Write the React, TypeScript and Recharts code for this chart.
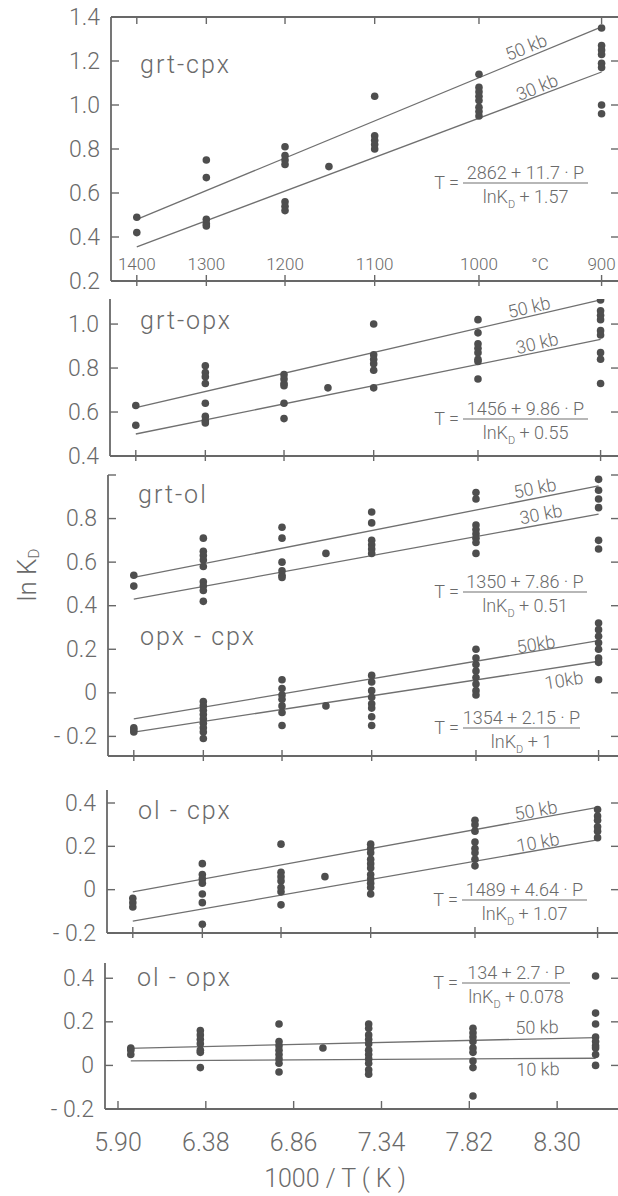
import React from 'react';
import { ComposedChart, Scatter, Line, XAxis, YAxis } from 'recharts';

// x positions (1000/T) of the run temperatures 1400,1300,1200,1150,1100,1000,900 °C
const RUN_X = [5.97, 6.35, 6.78, 7.02, 7.27, 7.84, 8.51];
const TEMP_TICK_X = [5.97, 6.35, 6.78, 7.27, 7.84, 8.51];
const TEMP_LABELS = ['1400', '1300', '1200', '1100', '1000', '900'];
const INV_T_TICKS = [5.9, 6.38, 6.86, 7.34, 7.82, 8.3];
const X_DOMAIN = [5.829, 8.638];
const LINE_X = [5.97, 8.51];
const LINE_X_OL_OPX_50 = [5.95, 8.51];

// ln KD values, one list per run temperature
const GRT_CPX = [
  [0.49, 0.42],
  [0.75, 0.67, 0.48, 0.46, 0.45],
  [0.81, 0.77, 0.75, 0.73, 0.56, 0.54, 0.52],
  [0.72],
  [1.04, 0.86, 0.84, 0.82, 0.8],
  [1.14, 1.08, 1.06, 1.04, 1.02, 0.99, 0.97, 0.95],
  [1.35, 1.27, 1.25, 1.23, 1.19, 1.17, 1.0, 0.96],
];
const GRT_CPX_50 = [0.48, 1.355];
const GRT_CPX_30 = [0.355, 1.15];

const GRT_OPX = [
  [0.63, 0.54],
  [0.81, 0.78, 0.76, 0.73, 0.64, 0.58, 0.56, 0.55],
  [0.77, 0.75, 0.73, 0.72, 0.64, 0.57],
  [0.71],
  [1.0, 0.86, 0.84, 0.82, 0.79, 0.71],
  [1.02, 0.96, 0.91, 0.89, 0.87, 0.84, 0.83, 0.75],
  [1.11, 1.06, 1.04, 1.02, 0.97, 0.95, 0.87, 0.84, 0.73],
];
const GRT_OPX_50 = [0.62, 1.11];
const GRT_OPX_30 = [0.5, 0.93];

const GRT_OL = [
  [0.54, 0.49],
  [0.71, 0.65, 0.63, 0.61, 0.58, 0.51, 0.49, 0.47, 0.42],
  [0.76, 0.71, 0.6, 0.56, 0.54, 0.53],
  [0.64],
  [0.83, 0.78, 0.7, 0.68, 0.66, 0.64],
  [0.92, 0.89, 0.77, 0.75, 0.73, 0.71, 0.69, 0.64],
  [0.98, 0.93, 0.89, 0.85, 0.7, 0.66],
];
const GRT_OL_50 = [0.53, 0.95];
const GRT_OL_30 = [0.43, 0.82];

const OPX_CPX = [
  [-0.16, -0.17, -0.18],
  [-0.04, -0.06, -0.08, -0.1, -0.12, -0.14, -0.16, -0.18, -0.21],
  [0.06, 0.02, -0.01, -0.03, -0.06, -0.09, -0.15],
  [-0.06],
  [0.08, 0.05, 0.01, -0.02, -0.05, -0.07, -0.11, -0.15],
  [0.2, 0.16, 0.13, 0.1, 0.07, 0.04, 0.01, -0.01],
  [0.32, 0.29, 0.26, 0.23, 0.2, 0.16, 0.14, 0.06],
];
const OPX_CPX_50 = [-0.12, 0.24];
const OPX_CPX_10 = [-0.18, 0.145];

const OL_CPX = [
  [-0.04, -0.06, -0.08],
  [0.12, 0.07, 0.05, 0.03, -0.02, -0.06, -0.16],
  [0.21, 0.08, 0.06, 0.04, 0.01, -0.01, -0.07],
  [0.06],
  [0.21, 0.19, 0.17, 0.14, 0.12, 0.1, 0.07, 0.05, 0.03, 0.01, -0.02],
  [0.32, 0.3, 0.27, 0.22, 0.19, 0.17, 0.14, 0.11],
  [0.52, 0.48, 0.37, 0.34, 0.32, 0.29, 0.27, 0.24],
];
const OL_CPX_50 = [-0.01, 0.38];
const OL_CPX_10 = [-0.145, 0.23];

const OL_OPX = [
  [0.08, 0.07, 0.05],
  [0.16, 0.14, 0.12, 0.1, 0.07, 0.06, -0.01],
  [0.19, 0.11, 0.09, 0.07, 0.05, 0.03, 0.01, -0.03],
  [0.08],
  [0.19, 0.17, 0.14, 0.12, 0.1, 0.07, 0.05, 0.03, 0.01, -0.02, -0.04],
  [0.17, 0.15, 0.13, 0.11, 0.08, 0.06, 0.02, -0.01, -0.14],
  [0.41, 0.24, 0.19, 0.13, 0.11, 0.09, 0.08, 0.05, 0.0],
];
const OL_OPX_50 = [0.078, 0.128];
const OL_OPX_10 = [0.021, 0.033];

const PANEL_NAMES = ['grt-cpx', 'grt-opx', 'grt-ol', 'opx - cpx', 'ol - cpx', 'ol - opx'];
const EQ_NUM = ['2862 + 11.7 · P', '1456 + 9.86 · P', '1350 + 7.86 · P', '1354 + 2.15 · P', '1489 + 4.64 · P', '134 + 2.7 · P'];
const EQ_DEN = ['1.57', '0.55', '0.51', '1', '1.07', '0.078'];
const KB_LABELS = [['50 kb', '30 kb'], ['50 kb', '30 kb'], ['50 kb', '30 kb'], ['50kb', '10kb'], ['50 kb', '10 kb'], ['50 kb', '10 kb']];

const AX = '#686868';
const TXT = '#6a6a6a';
const DOT = '#4e4e4e';
const LINE = '#707070';
const FONT = 'Roboto, "DejaVu Sans", sans-serif';

const toPoints = (cols: number[][]) => cols.flatMap((vals, i) => vals.map((y) => ({ x: RUN_X[i], y })));
const toLine = (xs: number[], ys: number[]) => xs.map((x, i) => ({ x, y: ys[i] }));
const fmt = (v: number) => (v === 0 ? '0' : v < 0 ? `- ${Math.abs(v).toFixed(1)}` : v.toFixed(1));

const PANELS = [
  {
    top: 17, bottom: 281, shift: 0, domain: [0.2, 1.4], kind: 'first',
    left: [1.4, 1.2, 1.0, 0.8, 0.6, 0.4, 0.2], labeled: [1.4, 1.2, 1.0, 0.8, 0.6, 0.4, 0.2], right: [1.2, 1.0, 0.8, 0.6, 0.4],
    points: [toPoints(GRT_CPX)], lines: [toLine(LINE_X, GRT_CPX_50), toLine(LINE_X, GRT_CPX_30)],
  },
  {
    top: 299, bottom: 456, shift: 1, domain: [0.4, 1.114], kind: 'mid',
    left: [1.0, 0.8, 0.6, 0.4], labeled: [1.0, 0.8, 0.6, 0.4], right: [1.0, 0.8, 0.6],
    points: [toPoints(GRT_OPX)], lines: [toLine(LINE_X, GRT_OPX_50), toLine(LINE_X, GRT_OPX_30)],
  },
  {
    top: 475, bottom: 756, shift: 3, domain: [-0.29, 1.0], kind: 'mid',
    left: [1.0, 0.8, 0.6, 0.4, 0.2, 0, -0.2], labeled: [0.8, 0.6, 0.4, 0.2, 0, -0.2], right: [1.0, 0.8, 0.6, 0.4, 0.2, 0, -0.2],
    points: [toPoints(GRT_OL), toPoints(OPX_CPX)],
    lines: [toLine(LINE_X, GRT_OL_50), toLine(LINE_X, GRT_OL_30), toLine(LINE_X, OPX_CPX_50), toLine(LINE_X, OPX_CPX_10)],
  },
  {
    top: 790, bottom: 933, shift: 4, domain: [-0.2, 0.46], kind: 'mid',
    left: [0.4, 0.2, 0, -0.2], labeled: [0.4, 0.2, 0, -0.2], right: [0.4, 0.2, 0],
    points: [toPoints(OL_CPX)], lines: [toLine(LINE_X, OL_CPX_50), toLine(LINE_X, OL_CPX_10)],
  },
  {
    top: 963, bottom: 1109, shift: 6, domain: [-0.2, 0.47], kind: 'last',
    left: [0.4, 0.2, 0, -0.2], labeled: [0.4, 0.2, 0, -0.2], right: [0.4, 0.2, 0],
    points: [toPoints(OL_OPX)], lines: [toLine(LINE_X_OL_OPX_50, OL_OPX_50), toLine(LINE_X, OL_OPX_10)],
  },
];

// overlay text placement
const NAME_POS = [[140, 73], [140, 329], [138, 503], [140, 645], [138, 819], [137, 986]];
const EQ_POS = [[463, 588, 183], [463, 588, 419], [463, 587, 592], [463, 580, 728], [462, 587, 900], [462, 570, 983]];
const KB_POS = [
  [[526, 47], [537, 87], -22],
  [[529, 307], [537, 343], -13],
  [[535, 488], [541, 514], -11],
  [[536, 644], [564, 680], -9],
  [[536, 810], [538, 842], -10],
  [[537, 1027], [538, 1069], -1],
];

const DotShape = (p: any) => <circle cx={p.cx} cy={p.cy} r={3.8} fill={DOT} />;

function Panel({ cfg }: { cfg: any }) {
  const first = cfg.kind === 'first';
  const last = cfg.kind === 'last';
  const bottomH = last ? 40 : 10;
  const height = cfg.bottom - cfg.top + 30 + bottomH;
  const s = cfg.shift;

  const bottomTick = (p: any) => {
    const v = p.payload.value;
    if (last) {
      return (
        <g>
          <line x1={p.x} x2={p.x} y1={p.y - 8} y2={p.y} stroke={AX} strokeWidth={1.4} />
          <text x={p.x} y={p.y + 33} textAnchor="middle" dominantBaseline="central" fill={TXT} fontSize={25} fontFamily={FONT} fontWeight={300}>
            {v.toFixed(2)}
          </text>
        </g>
      );
    }
    const idx = TEMP_TICK_X.indexOf(v);
    return (
      <g>
        <line x1={p.x} x2={p.x} y1={p.y - 6} y2={p.y + 5} stroke={AX} strokeWidth={1.4} />
        {first && (
          <text x={p.x} y={p.y - 17} textAnchor="middle" dominantBaseline="central" fill={TXT} fontSize={17} fontFamily={FONT} fontWeight={300}>
            {TEMP_LABELS[idx]}
          </text>
        )}
      </g>
    );
  };
  const topTick = (p: any) => <line x1={p.x} x2={p.x} y1={p.y} y2={p.y + 7} stroke={AX} strokeWidth={1.4} />;
  const leftTick = (p: any) => {
    const v = p.payload.value;
    return (
      <g>
        <line x1={p.x} x2={p.x + 8} y1={p.y} y2={p.y} stroke={AX} strokeWidth={1.4} />
        {cfg.labeled.includes(v) && (
          <text x={p.x - 11} y={p.y} textAnchor="end" dominantBaseline="central" fill={TXT} fontSize={23} fontFamily={FONT} fontWeight={300}>
            {fmt(v)}
          </text>
        )}
      </g>
    );
  };
  const rightTick = (p: any) => <line x1={611 + s} x2={p.x + 2} y1={p.y} y2={p.y} stroke={AX} strokeWidth={1.4} />;

  return (
    <div style={{ position: 'absolute', left: -s, top: cfg.top - 20 }}>
      <ComposedChart width={636} height={height} margin={{ top: first ? 10 : 20, right: 1, bottom: 10, left: 50 }}>
        <XAxis
          xAxisId="b" type="number" dataKey="x" domain={X_DOMAIN} allowDataOverflow
          ticks={last ? INV_T_TICKS : TEMP_TICK_X} interval={0} height={bottomH}
          tickSize={0} tickMargin={0} tickLine={false}
          axisLine={{ stroke: AX, strokeWidth: 1.8 }} tick={bottomTick}
        />
        {first && (
          <XAxis
            xAxisId="t" orientation="top" type="number" dataKey="x" domain={X_DOMAIN} allowDataOverflow
            ticks={TEMP_TICK_X} interval={0} height={10} tickSize={0} tickMargin={0} tickLine={false}
            axisLine={{ stroke: AX, strokeWidth: 1.8 }} tick={topTick}
          />
        )}
        <YAxis
          yAxisId="l" type="number" domain={cfg.domain} allowDataOverflow ticks={cfg.left} interval={0}
          width={61} tickSize={0} tickMargin={0} tickLine={false}
          axisLine={{ stroke: AX, strokeWidth: 1.8 }} tick={leftTick}
        />
        <YAxis
          yAxisId="r" orientation="right" type="number" domain={cfg.domain} allowDataOverflow ticks={cfg.right} interval={0}
          width={10} tickSize={0} tickMargin={0} tickLine={false} axisLine={false} tick={rightTick}
        />
        {cfg.lines.map((ld: any, i: number) => (
          <Line
            key={i} xAxisId="b" yAxisId="l" data={ld} dataKey="y" type="linear"
            stroke={LINE} strokeWidth={1.3} dot={false} activeDot={false} isAnimationActive={false}
          />
        ))}
        {cfg.points.map((pts: any, i: number) => (
          <Scatter key={i} xAxisId="b" yAxisId="l" data={pts} dataKey="y" shape={DotShape} isAnimationActive={false} />
        ))}
      </ComposedChart>
    </div>
  );
}

function Overlay() {
  const t = { fill: TXT, fontFamily: FONT, fontWeight: 300 } as any;
  return (
    <svg width={618} height={1196} style={{ position: 'absolute', left: 0, top: 0, pointerEvents: 'none' }}>
      {PANEL_NAMES.map((n, i) => (
        <text key={n} x={NAME_POS[i][0]} y={NAME_POS[i][1]} fontSize={25} letterSpacing={2} {...t}>{n}</text>
      ))}
      {EQ_NUM.map((num, i) => {
        const [x1, x2, y] = EQ_POS[i];
        const cx = (x1 + x2) / 2;
        return (
          <g key={i}>
            <text x={x1 - 4} y={y + 6} textAnchor="end" fontSize={18} {...t}>T  =</text>
            <text x={cx} y={y - 4} textAnchor="middle" fontSize={18} {...t}>{num}</text>
            <line x1={x1} x2={x2} y1={y} y2={y} stroke={LINE} strokeWidth={1.2} />
            <text x={cx} y={y + 20} textAnchor="middle" fontSize={18} {...t}>
              lnK<tspan fontSize={11} dy={5}>D</tspan><tspan dy={-5}> + {EQ_DEN[i]}</tspan>
            </text>
          </g>
        );
      })}
      {KB_LABELS.map((pair, i) => {
        const [a, b, ang] = KB_POS[i] as any;
        return (
          <g key={i}>
            <text x={a[0]} y={a[1]} textAnchor="middle" dominantBaseline="central" fontSize={18} transform={`rotate(${ang} ${a[0]} ${a[1]})`} {...t}>{pair[0]}</text>
            <text x={b[0]} y={b[1]} textAnchor="middle" dominantBaseline="central" fontSize={18} transform={`rotate(${ang} ${b[0]} ${b[1]})`} {...t}>{pair[1]}</text>
          </g>
        );
      })}
      <text x={540} y={264} textAnchor="middle" dominantBaseline="central" fontSize={17} {...t}>°C</text>
      <text x={27} y={575} textAnchor="middle" dominantBaseline="central" fontSize={26} transform="rotate(-90 27 575)" {...t}>
        ln K<tspan fontSize={15} dy={7}>D</tspan>
      </text>
      <text x={335} y={1178} textAnchor="middle" dominantBaseline="central" fontSize={25} {...t}>1000 / T ( K )</text>
    </svg>
  );
}

export default function App() {
  return (
    <div style={{ position: 'absolute', left: 0, top: 0, width: 618, height: 1196, overflow: 'hidden', background: '#fff' }}>
      {PANELS.map((cfg, i) => (
        <Panel key={i} cfg={cfg} />
      ))}
      <Overlay />
    </div>
  );
}
